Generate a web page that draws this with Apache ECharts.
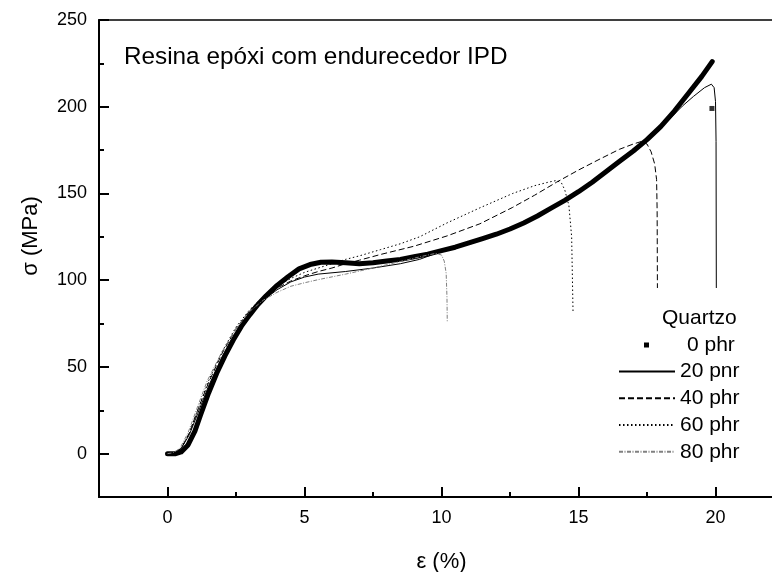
<!DOCTYPE html>
<html style="height: 100%">
<head>
<meta charset="utf-8">
<script type="text/javascript" src="https://cdn.jsdelivr.net/npm/echarts@6/dist/echarts.min.js"></script>
</head>
<body style="height: 100%; margin: 0">
<div id="chart" style="width: 772px; height: 572px"></div>
<script type="text/javascript">
// tick positions
var xTicks = [0, 5, 10, 15, 20];
var xMinor = [2.5, 7.5, 12.5, 17.5];
var yTicks = [0, 50, 100, 150, 200, 250];
var yMinor = [25, 75, 125, 175, 225];

// curves: [strain %, stress MPa]
var phr0 = [[0,0],[0.3,0],[0.5,1],[0.75,5],[1.0,13],[1.2,22],[1.5,35],[1.8,46.5],[2.1,56.5],[2.4,65.5],[2.7,73.5],[3.0,80],[3.3,86],[3.6,91],[4.0,97],[4.4,102],[4.8,106.5],[5.2,109],[5.6,110.3],[6.0,110.5],[6.5,110],[7.0,109.5],[7.5,110],[8.0,111],[8.5,112],[9.0,113.5],[9.5,115],[10,117],[10.5,119],[11,121.5],[11.5,124],[12,126.5],[12.5,129.5],[13,133],[13.5,137],[14,141.5],[14.5,146],[15,151],[15.5,156.5],[16,162.5],[16.5,168.5],[17,174.5],[17.5,181],[18,188.5],[18.5,197.5],[19,207.5],[19.5,217.5],[19.88,226]];
var phr0Break = [[19.87, 199]];
var phr20 = [[0,0],[0.25,0.5],[0.5,3],[0.8,11],[1.1,23],[1.5,39],[2,56],[2.5,70],[3,81],[3.5,88.5],[4,94.5],[4.5,99],[5,101.8],[5.5,103.5],[6.5,105],[7.5,107],[8.5,109.5],[9.2,112],[9.8,115.5],[10.5,118.5],[11,121],[12,126],[13,132.5],[14,141],[15,150.5],[16,162],[17,174],[17.8,184.5],[18.3,192.5],[18.8,200.5],[19.2,206],[19.6,211],[19.85,213],[19.95,211],[20.0,203],[20.02,180],[20.03,95.5]];
var phr40 = [[0,0],[0.25,0.5],[0.5,3],[0.8,12],[1.1,25],[1.5,41],[2,58],[2.5,72],[3,82.5],[3.5,90],[4,95.5],[4.5,99.5],[5,102.5],[5.5,105],[6,107],[6.5,109.5],[7,111.5],[7.77,114.8],[9,119.6],[10.2,125.5],[11.4,132.5],[12.6,142],[13.4,149],[14.2,156.5],[15,163.5],[15.8,170],[16.5,175.5],[17,178.5],[17.3,180],[17.5,178.5],[17.65,174],[17.78,167],[17.85,158],[17.87,140],[17.88,95.5]];
var phr60 = [[0,0],[0.25,0.5],[0.5,3],[0.8,12],[1.1,25],[1.5,42],[2,59],[2.5,73],[3,83],[3.5,90.5],[4,96.5],[4.5,101],[5,104.5],[5.5,107],[6,109.5],[6.5,112],[7,114],[7.77,117.6],[8.5,121],[9.2,125],[10.2,133],[11.4,141.7],[12.6,150],[13.4,154.5],[13.9,156.5],[14.2,157.5],[14.38,156],[14.5,152],[14.65,143],[14.75,125],[14.8,82]];
var phr80 = [[0,0],[0.2,0.5],[0.45,3],[0.75,12],[1.05,25],[1.45,42],[2,59],[2.5,72],[3,82],[3.5,88.5],[4,93],[4.5,96.5],[5,98.5],[5.5,100.3],[6.5,103.5],[7.5,107],[8.5,110.8],[9.3,113.8],[9.8,115.5],[10.0,114.5],[10.1,111],[10.17,104],[10.2,90],[10.21,76]];

var font = 'Liberation Sans';
var chart = echarts.init(document.getElementById('chart'));

var gridPos = {left: 99, top: 20, right: -12, bottom: 75, containLabel: false, outerBoundsMode: 'none'};

var option = {
    animation: false,
    backgroundColor: '#fff',
    title: [
        {
            text: 'Resina epóxi com endurecedor IPD',
            left: 124, top: 45, padding: 0,
            textStyle: {fontFamily: font, fontSize: 24.3, fontWeight: 'normal', color: '#000'}
        },
        {
            text: 'Quartzo',
            left: 662, top: 308, padding: 0,
            textStyle: {fontFamily: font, fontSize: 21, fontWeight: 'normal', color: '#000', lineHeight: 21}
        }
    ],
    legend: [
        {
            data: ['0 phr'],
            orient: 'vertical',
            left: 644, top: 334.5, padding: 0,
            icon: 'rect', itemWidth: 5, itemHeight: 5,
            selectedMode: false,
            formatter: '{p|{name}}',
            textStyle: {
                fontFamily: font, fontSize: 21, lineHeight: 21, color: '#000',
                rich: {p: {padding: [0, 0, 0, 33], fontFamily: font, fontSize: 21, lineHeight: 21, color: '#000'}}
            }
        },
        {
            data: ['20 pnr', '40 phr', '60 phr', '80 phr'],
            orient: 'vertical',
            left: 618, top: 361, padding: 0,
            itemWidth: 56, itemHeight: 2, itemGap: 5.75,
            itemStyle: {opacity: 0},
            selectedMode: false,
            textStyle: {fontFamily: font, fontSize: 21, lineHeight: 21, color: '#000'}
        }
    ],
    grid: [
        Object.assign({show: true, borderColor: '#000', borderWidth: 1.5, backgroundColor: 'transparent'}, gridPos),
        Object.assign({show: false}, gridPos)
    ],
    xAxis: [
        {
            type: 'value', gridIndex: 0, min: -2.5, max: 22.5, position: 'bottom',
            axisLine: {show: true, onZero: false, lineStyle: {color: '#000', width: 2}},
            axisTick: {show: true, inside: true, length: 10, lineStyle: {color: '#000', width: 2}, customValues: xTicks},
            axisLabel: {customValues: xTicks, margin: 12, fontFamily: font, fontSize: 18, color: '#000'},
            splitLine: {show: false},
            name: 'ε (%)', nameLocation: 'middle', nameGap: 54,
            nameTextStyle: {fontFamily: font, fontSize: 22, color: '#000'}
        },
        {
            type: 'value', gridIndex: 1, min: -2.5, max: 22.5, position: 'bottom',
            axisLine: {show: false, onZero: false},
            axisTick: {show: true, inside: true, length: 5, lineStyle: {color: '#000', width: 2}, customValues: xMinor},
            axisLabel: {show: false},
            splitLine: {show: false}
        }
    ],
    yAxis: [
        {
            type: 'value', gridIndex: 0, min: -25, max: 250, position: 'left',
            axisLine: {show: true, onZero: false, lineStyle: {color: '#000', width: 2}},
            axisTick: {show: true, inside: true, length: 10, lineStyle: {color: '#000', width: 2}, customValues: yTicks},
            axisLabel: {customValues: yTicks, margin: 12, fontFamily: font, fontSize: 18, color: '#000'},
            splitLine: {show: false},
            name: 'σ (MPa)', nameLocation: 'middle', nameGap: 57,
            nameTextStyle: {fontFamily: font, fontSize: 22, color: '#000', padding: [0, 0, 0, 45]}
        },
        {
            type: 'value', gridIndex: 1, min: -25, max: 250, position: 'left',
            axisLine: {show: false, onZero: false},
            axisTick: {show: true, inside: true, length: 5, lineStyle: {color: '#000', width: 2}, customValues: yMinor},
            axisLabel: {show: false},
            splitLine: {show: false}
        }
    ],
    series: [
        {
            name: '0 phr', type: 'line', data: phr0, symbol: 'none',
            lineStyle: {color: '#000', width: 5, cap: 'round', join: 'round'},
            itemStyle: {color: '#000'}
        },
        {
            name: '0 phr', type: 'scatter', data: phr0Break, symbol: 'rect', symbolSize: 5,
            itemStyle: {color: '#000'}
        },
        {
            name: '20 pnr', type: 'line', data: phr20, symbol: 'none',
            lineStyle: {color: '#000', width: 1},
            itemStyle: {color: '#000'}
        },
        {
            name: '40 phr', type: 'line', data: phr40, symbol: 'none',
            lineStyle: {color: '#000', width: 1, type: [6, 3]},
            itemStyle: {color: '#000'}
        },
        {
            name: '60 phr', type: 'line', data: phr60, symbol: 'none',
            lineStyle: {color: '#000', width: 1, type: [1.5, 2.5]},
            itemStyle: {color: '#000'}
        },
        {
            name: '80 phr', type: 'line', data: phr80, symbol: 'none',
            lineStyle: {color: '#808080', width: 1, type: [4, 1.5, 1, 1.5]},
            itemStyle: {color: '#808080'}
        }
    ]
};

chart.setOption(option);
</script>
</body>
</html>
